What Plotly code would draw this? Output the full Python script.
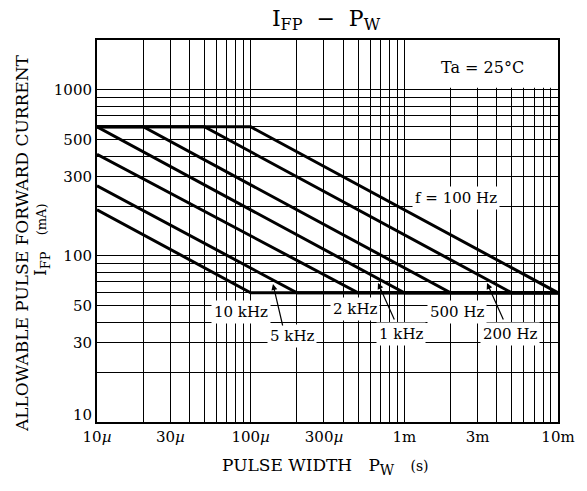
import plotly.graph_objects as go

# ---------------- data ----------------
pw_10k = [1e-5, 1e-4, 1e-2]
if_10k = [190, 60, 60]
pw_5k = [1e-5, 2e-4, 1e-2]
if_5k = [265, 60, 60]
pw_2k = [1e-5, 5e-4, 1e-2]
if_2k = [410, 60, 60]
pw_1k = [1e-5, 1e-3, 1e-2]
if_1k = [600, 60, 60]
pw_500 = [1e-5, 2e-5, 2e-3, 1e-2]
if_500 = [600, 600, 60, 60]
pw_200 = [1e-5, 5e-5, 5e-3, 1e-2]
if_200 = [600, 600, 60, 60]
pw_100 = [1e-5, 1e-4, 1e-2]
if_100 = [600, 600, 60]

x_tick_vals = [1e-5, 3e-5, 1e-4, 3e-4, 1e-3, 3e-3, 1e-2]
x_tick_text = ["10<i>µ</i>", "30<i>µ</i>", "100<i>µ</i>", "300<i>µ</i>", "1m", "3m", "10m"]
y_tick_vals = [30, 50, 100, 300, 500, 1000]
y_tick_text = ["30", "50", "100", "300", "500", "1000"]
y_bottom_label = "10"

series = [
    ("10 kHz", pw_10k, if_10k),
    ("5 kHz", pw_5k, if_5k),
    ("2 kHz", pw_2k, if_2k),
    ("1 kHz", pw_1k, if_1k),
    ("500 Hz", pw_500, if_500),
    ("200 Hz", pw_200, if_200),
    ("100 Hz", pw_100, if_100),
]

# ---------------- layout helpers ----------------
W, H = 587, 491
L, R, T, B = 97, 558, 40, 422
FONT = "DejaVu Serif"


def px(x):
    return (x - L) / (R - L)


def py(y):
    return (B - y) / (B - T)


# full log grid positions (1..9 per decade)
x_grid = [m * 10.0 ** e for e in (-5, -4, -3) for m in range(1, 10)] + [1e-2]
y_grid = [m * 10.0 ** e for e in (1, 2) for m in range(1, 10)] + [1000, 2000]


def labels_for(grid, vals, texts):
    out = []
    for v in grid:
        lab = ""
        for t, s in zip(vals, texts):
            if abs(v - t) / t < 1e-6:
                lab = s
        out.append(lab)
    return out


x_text = labels_for(x_grid, x_tick_vals, x_tick_text)
y_text = labels_for(y_grid, y_tick_vals, y_tick_text)

fig = go.Figure()
for name, xs, ys in series:
    fig.add_trace(go.Scatter(x=xs, y=ys, mode="lines", name=name,
                             line=dict(color="black", width=3),
                             showlegend=False, hoverinfo="skip"))

fig.update_layout(
    width=W, height=H,
    margin=dict(l=L, r=W - R, t=T, b=H - B, autoexpand=False),
    paper_bgcolor="white", plot_bgcolor="white",
    font=dict(family=FONT, color="black", size=15),
    title=dict(text="I<sub><span style='font-size:16px'>FP</span></sub>  −  P<sub><span style='font-size:16px'>W</span></sub>",
               x=326 / W, xanchor="center",
               y=1 - 18 / H, yanchor="middle", font=dict(size=22, family=FONT)),
    showlegend=False,
)

fig.update_xaxes(type="log", range=[-5, -2], tickvals=x_grid, ticktext=x_text,
                 showgrid=True, gridcolor="black", gridwidth=1, automargin=False,
                 showline=True, linecolor="black", linewidth=2, mirror=True,
                 ticks="", zeroline=False, tickfont=dict(size=15, family=FONT))
fig.update_yaxes(type="log", range=[1, 3.30103], tickvals=y_grid, ticktext=y_text,
                 showgrid=True, gridcolor="black", gridwidth=1, automargin=False,
                 showline=True, linecolor="black", linewidth=2, mirror=True,
                 ticks="", zeroline=False, tickfont=dict(size=15, family=FONT))

# blank box for Ta label (covers grid, below data)
fig.add_shape(type="rect", xref="x", yref="y", x0=1.03e-3, x1=1e-2, y0=1030, y1=2000,
              fillcolor="white", line=dict(width=0), layer="between")

ann = []


def label(text, x, y, size=15):
    ann.append(dict(text=text, xref="paper", yref="paper", x=px(x), y=py(y),
                    xanchor="center", yanchor="middle", showarrow=False,
                    bgcolor="white", borderpad=2,
                    font=dict(size=size, family=FONT, color="black")))


def arrow(tip, tail):
    ann.append(dict(text="", xref="paper", yref="paper", x=px(tip[0]), y=py(tip[1]),
                    ax=tail[0] - tip[0], ay=tail[1] - tip[1], axref="pixel", ayref="pixel",
                    showarrow=True, arrowhead=2, arrowsize=1, arrowwidth=1.2,
                    arrowcolor="black"))


label("Ta = 25°C", 482, 67, 16)
label("f = 100 Hz", 456, 198, 15)
label("10 kHz", 241, 312)
label("5 kHz", 292, 336)
label("2 kHz", 355, 309)
label("1 kHz", 401, 334)
label("500 Hz", 457, 312)
label("200 Hz", 510, 334)
arrow((273, 284), (283, 327))
arrow((378, 283), (395, 321))
arrow((487, 283), (504, 321))

# bottom y tick label, lifted slightly as in the reference
ann.append(dict(text=y_bottom_label, xref="paper", yref="paper", x=px(94), y=py(415),
                xanchor="right", yanchor="middle", showarrow=False,
                font=dict(size=15, family=FONT)))

# axis titles
ann.append(dict(text="ALLOWABLE PULSE FORWARD CURRENT", xref="paper", yref="paper",
                x=px(22), y=py(243), xanchor="center", yanchor="middle", textangle=-90,
                showarrow=False, font=dict(size=17, family=FONT)))
ann.append(dict(text="I<sub><span style='font-size:13px'>FP</span></sub>   <span style='font-size:13px'>(mA)</span>",
                xref="paper", yref="paper",
                x=px(41), y=py(240), xanchor="center", yanchor="middle", textangle=-90,
                showarrow=False, font=dict(size=17, family=FONT)))
ann.append(dict(text="PULSE WIDTH   P<sub><span style='font-size:14px'>W</span></sub>   <span style='font-size:14px'>(s)</span>",
                xref="paper", yref="paper",
                x=px(325), y=py(466), xanchor="center", yanchor="middle",
                showarrow=False, font=dict(size=17, family=FONT)))

fig.update_layout(annotations=ann)
fig.write_html("out.html", config={"displayModeBar": False},
               post_script="document.body.style.margin='0px';")
